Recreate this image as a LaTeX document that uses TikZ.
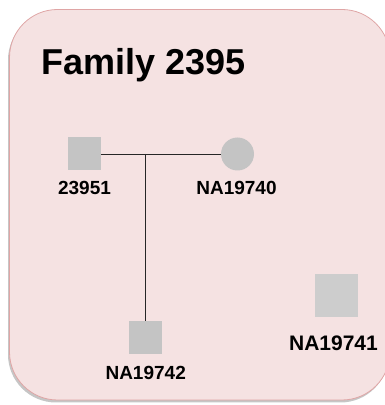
\documentclass[tikz,border=0pt]{standalone}
\usepackage{fontspec}
\setmainfont{Liberation Sans}
\usetikzlibrary{positioning,calc,shadows}
\definecolor{panel}{HTML}{F5E2E2}
\definecolor{rim}{HTML}{DFA5A5}
\definecolor{shape}{HTML}{C4C4C4}
\definecolor{ink}{HTML}{262626}
\tikzset{
 male/.style={rectangle,fill=shape,minimum size=33pt,inner sep=0pt},
 female/.style={circle,fill=shape,minimum size=33pt,inner sep=0pt},
 tag/.style={font=\fontsize{19}{19}\selectfont\bfseries,anchor=base,inner sep=0pt},
 bond/.style={draw=ink,line width=.9pt}
}
\begin{document}
\begin{tikzpicture}[x=1pt,y=1pt]
  \useasboundingbox (0,0) rectangle (385,405);
  \node[draw=rim,fill=panel,line width=.8pt,rounded corners=48pt,
    minimum width=380.5pt,minimum height=390.5pt,inner sep=0pt,
    drop shadow={shadow xshift=-1.5pt,shadow yshift=-2.5pt,opacity=.45}]
    (panel) at (199.75,200.25) {};
  \node[font=\fontsize{36}{36}\selectfont\bfseries,anchor=base west,inner sep=0pt]
    (title) at (41,330) {Family 2395};

  \node[male] (father) at (84.5,251) {};
  \node[female] (mother) at (237.5,251) {};
  \node[male] (child) at (145.7,67.5) {};
  \node[male,fill=shape!85,minimum size=43pt] (single) at (336.5,109.5) {};

  \node[tag] (lfather) at ($(father.south)+(0,-24)$) {23951};
  \node[tag] (lmother) at ($(mother.south)+(-1,-24)$) {NA19740};
  \node[tag] (lchild) at ($(child.south)+(0,-25)$) {NA19742};
  \node[tag,font=\fontsize{21}{21}\selectfont\bfseries] (lsingle) at ($(single.south)+(-3,-33)$) {NA19741};

  \coordinate (couple) at (child.north |- father.east);
  \draw[bond] (father.east) -- (mother.west);
  \draw[bond] (couple) -- (child.north);
\end{tikzpicture}
\end{document}
